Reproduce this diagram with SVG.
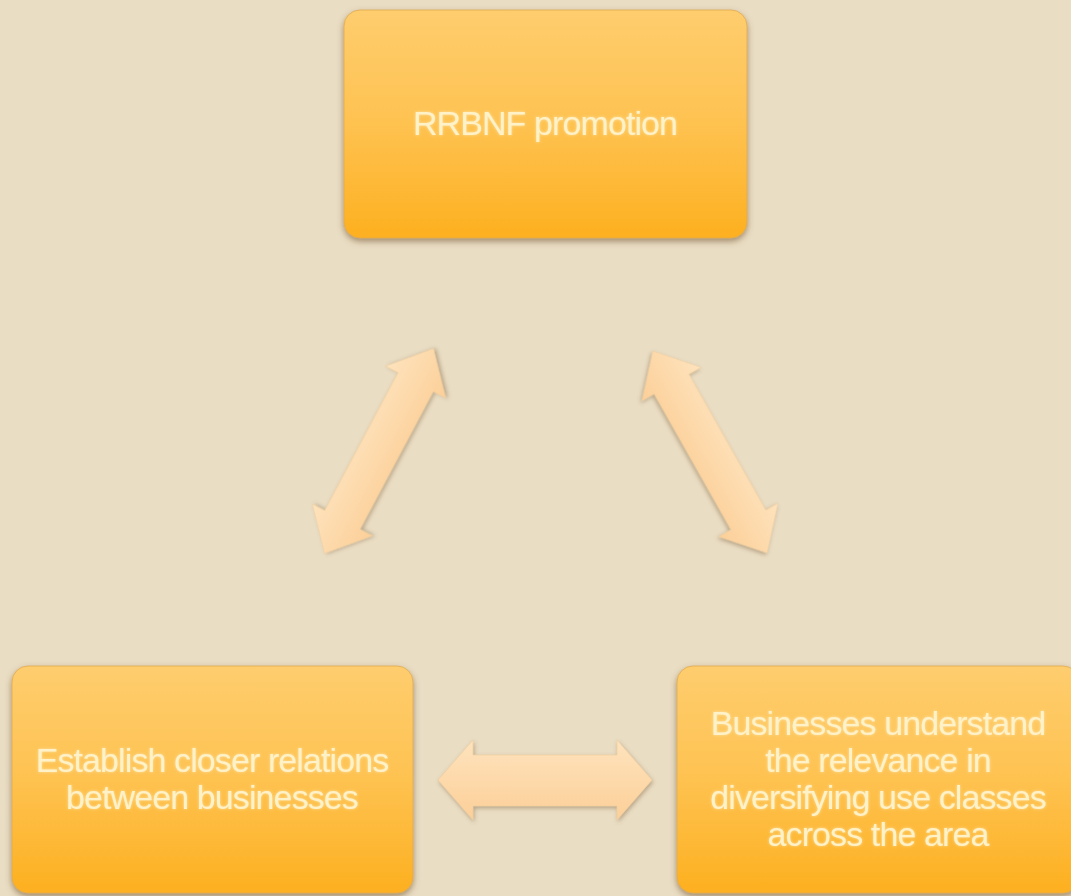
<svg xmlns="http://www.w3.org/2000/svg" width="1071" height="896" viewBox="0 0 1071 896">
<defs>
<linearGradient id="boxGrad" x1="0" y1="0" x2="0" y2="1">
<stop offset="0" stop-color="#FECD6E"/>
<stop offset="0.5" stop-color="#FEC250"/>
<stop offset="1" stop-color="#FDB020"/>
</linearGradient>
<linearGradient id="arrGrad" x1="0" y1="0" x2="0" y2="1">
<stop offset="0" stop-color="#FEE3BD"/>
<stop offset="1" stop-color="#FCCF98"/>
</linearGradient>
<filter id="shadow" x="-10%" y="-10%" width="120%" height="130%">
<feDropShadow dx="0" dy="3" stdDeviation="3" flood-color="#6b4a20" flood-opacity="0.55"/>
</filter>
<filter id="ashadow" x="-20%" y="-20%" width="140%" height="140%">
<feDropShadow dx="1" dy="2" stdDeviation="2" flood-color="#7a5a30" flood-opacity="0.45"/>
</filter>
<filter id="glow" x="-10%" y="-20%" width="120%" height="140%">
<feGaussianBlur in="SourceAlpha" stdDeviation="1.5" result="b"/>
<feFlood flood-color="#FFF6D8" flood-opacity="0.6"/>
<feComposite in2="b" operator="in" result="g"/>
<feMerge><feMergeNode in="g"/><feMergeNode in="SourceGraphic"/></feMerge>
</filter>
</defs>
<style>
.box{fill:url(#boxGrad);stroke:#e0aa50;stroke-width:0.8;filter:url(#shadow)}
.lbl{font-family:"Liberation Sans",Arial,sans-serif;font-size:34px;fill:#FFF2C8;text-anchor:middle;letter-spacing:-0.9px;filter:url(#glow)}
.arrow{fill:url(#arrGrad);stroke:#efcc9c;stroke-width:0.6;filter:url(#ashadow)}
</style>
<rect width="1071" height="896" fill="#E9DDC4"/>
<g id="node-top">
<rect class="box" x="344" y="10" width="403" height="228" rx="16"/>
<text class="lbl" x="545" y="135">RRBNF promotion</text>
</g>
<g id="node-left">
<rect class="box" x="12" y="666" width="401" height="227" rx="16"/>
<text class="lbl" x="212" y="772">Establish closer relations</text>
<text class="lbl" x="212" y="809">between businesses</text>
</g>
<g id="node-right">
<rect class="box" x="677" y="666" width="402" height="227" rx="16"/>
<text class="lbl" x="878" y="735">Businesses understand</text>
<text class="lbl" x="878" y="772">the relevance in</text>
<text class="lbl" x="878" y="809">diversifying use classes</text>
<text class="lbl" x="878" y="846">across the area</text>
</g>
<g id="connectors">
<path class="arrow" transform="translate(379 451) rotate(-62)" d="M-116 0 L-78 -34 L-78 -20 L78 -20 L78 -34 L116 0 L78 34 L78 20 L-78 20 L-78 34 Z"/>
<path class="arrow" transform="translate(710 452) rotate(60.5)" d="M-116 0 L-78 -34 L-78 -20 L78 -20 L78 -34 L116 0 L78 34 L78 20 L-78 20 L-78 34 Z"/>
<path class="arrow" d="M438 780 L473 740 L473 755 L617 755 L617 740 L652 780 L617 820 L617 806 L473 806 L473 820 Z"/>
</g>
</svg>
